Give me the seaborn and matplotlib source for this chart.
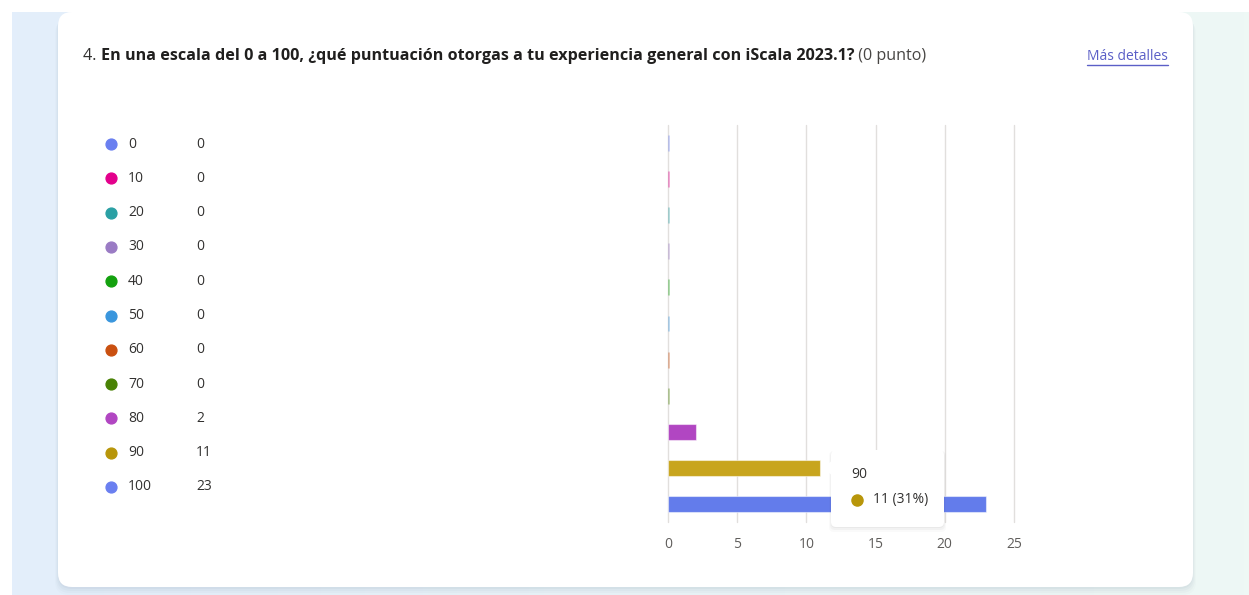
import matplotlib
matplotlib.use("Agg")
import matplotlib.pyplot as plt
import seaborn as sns
import numpy as np
import pandas as pd
from matplotlib.patches import FancyBboxPatch, Polygon
from matplotlib.lines import Line2D
from matplotlib.colors import LinearSegmentedColormap, to_rgba

# ---- data ----
scores = ["0", "10", "20", "30", "40", "50", "60", "70", "80", "90", "100"]
counts = [0, 0, 0, 0, 0, 0, 0, 0, 2, 11, 23]
colors = ["#6a7ff0", "#e3008c", "#2aa0a4", "#9a7bc4", "#13a10e", "#3a96dd",
          "#ca5010", "#498205", "#b146c2", "#c8a51e", "#637ceb"]
legend_dot_colors = ["#6a7ff0", "#e3008c", "#2aa0a4", "#9a7bc4", "#13a10e", "#3a96dd",
                     "#ca5010", "#498205", "#b146c2", "#b8960a", "#6a7ff0"]
xticks = [0, 5, 10, 15, 20, 25]
title_num = "4. "
title_bold = "En una escala del 0 a 100, ¿qué puntuación otorgas a tu experiencia general con iScala 2023.1?"
title_tail = " (0 punto)"
link_text = "Más detalles"
tooltip_label = "90"
tooltip_value = "11 (31%)"

W, H = 1249, 595
sns.set_theme(style="white")
plt.rcParams["font.family"] = ["Open Sans", "DejaVu Sans"]

fig = plt.figure(figsize=(W / 100, H / 100), dpi=100)
fig.patch.set_facecolor("white")

# background axes in pixel coordinates
bg = fig.add_axes([0, 0, 1, 1], zorder=-5)
bg.set_xlim(0, W)
bg.set_ylim(H, 0)
bg.axis("off")
grad = np.linspace(0, 1, 256)[None, :]
cm = LinearSegmentedColormap.from_list("bg", ["#e3eefb", "#eaf4f8", "#eef8f5"])
bg.imshow(grad, cmap=cm, extent=[12, W, H, 12], aspect="auto", zorder=0)
# card shadow
for i, a in enumerate([0.05, 0.04, 0.03, 0.02]):
    off = 2 + i * 2
    bg.add_patch(FancyBboxPatch((58 - i, 12 + off), 1135 + 2 * i, 575, boxstyle="round,pad=0,rounding_size=14",
                                fc="#5a6f8a", ec="none", alpha=a, zorder=1))
bg.add_patch(FancyBboxPatch((58, 12), 1135, 575, boxstyle="round,pad=0,rounding_size=14",
                            fc="white", ec="none", zorder=2))

# title pieces
renderer = fig.canvas.get_renderer()
x0 = 83
ty = 56
tfs = 11.6
t1 = bg.text(x0, ty, title_num, fontsize=tfs, color="#323130", va="center", zorder=3)
w1 = t1.get_window_extent(renderer).width
t2 = bg.text(x0 + w1, ty, title_bold, fontsize=tfs, fontweight="bold", color="#201f1e", va="center", zorder=3)
w2 = t2.get_window_extent(renderer).width
bg.text(x0 + w1 + w2, ty, title_tail, fontsize=tfs, color="#484644", va="center", zorder=3)
lk = bg.text(1168, ty, link_text, fontsize=10, color="#5b5fc7", va="center", ha="right", zorder=3)
lw_ = lk.get_window_extent(renderer).width
bg.plot([1168 - lw_, 1168], [ty + 8.5, ty + 8.5], color="#5b5fc7", lw=1, zorder=3)

# left legend list
for i, (s, c, dc) in enumerate(zip(scores, counts, legend_dot_colors)):
    y = 144 + i * 34.3
    bg.add_line(Line2D([111], [y], marker="o", ms=7.8, color=dc, mec=dc, ls="none", zorder=3))
    bg.text(128, y, s, fontsize=10, color="#323130", va="center", zorder=3)
    bg.text(196, y, str(c), fontsize=10, color="#323130", va="center", zorder=3)

# chart axes
left, right = 668 / W, 1014 / W
top, bottom = 125 / H, 522 / H
ax = fig.add_axes([left, 1 - bottom, right - left, bottom - top], zorder=2)
ax.patch.set_alpha(0)
df = pd.DataFrame({"score": scores, "count": counts})
pal = dict(zip(scores, colors))
sns.barplot(data=df, y="score", x="count", hue="score", palette=pal, order=scores,
            hue_order=scores, width=0.44, legend=False, ax=ax, orient="h", saturation=1, zorder=3)
for p, c in zip(ax.patches, colors):
    if p.get_width() == 0:
        p.set_edgecolor(to_rgba(c, 0.35))
        p.set_linewidth(2)
    else:
        p.set_edgecolor(to_rgba("white", 0.5))
        p.set_linewidth(0.8)
ax.set_xlim(0, 25)
ax.set_ylim(10.5, -0.5)
ax.set_xticks(xticks)
ax.set_xticklabels([str(v) for v in xticks])
ax.set_yticks([])
ax.set_xlabel("")
ax.set_ylabel("")
ax.grid(axis="x", color="#e1dfdd", lw=1)
for g in ax.get_xgridlines():
    g.set_clip_on(False)
ax.set_axisbelow(True)
for sp in ax.spines.values():
    sp.set_visible(False)
ax.tick_params(axis="x", length=0, pad=11, labelsize=10, labelcolor="#605e5c")

# tooltip overlay
ov = fig.add_axes([0, 0, 1, 1], zorder=10)
ov.set_xlim(0, W)
ov.set_ylim(H, 0)
ov.axis("off")
ov.patch.set_alpha(0)
for i, a in enumerate([0.06, 0.04, 0.025]):
    ov.add_patch(FancyBboxPatch((831 - i, 450 + 1), 113 + 2 * i, 77 + i * 2,
                                boxstyle="round,pad=0,rounding_size=5", fc="#444", ec="none", alpha=a))
ov.add_patch(FancyBboxPatch((831, 450), 113, 77, boxstyle="round,pad=0,rounding_size=5",
                            fc="white", ec="none"))
ov.add_patch(Polygon([[831.5, 461], [823, 468], [831.5, 475]], closed=True, fc="white", ec="none"))
ov.text(851, 475, tooltip_label, fontsize=10, color="#323130", va="center")
ov.add_line(Line2D([857], [500], marker="o", ms=8, color="#b8960a", ls="none"))
ov.text(873, 500, tooltip_value, fontsize=10, color="#323130", va="center")

fig.savefig("out.png", dpi=100)
